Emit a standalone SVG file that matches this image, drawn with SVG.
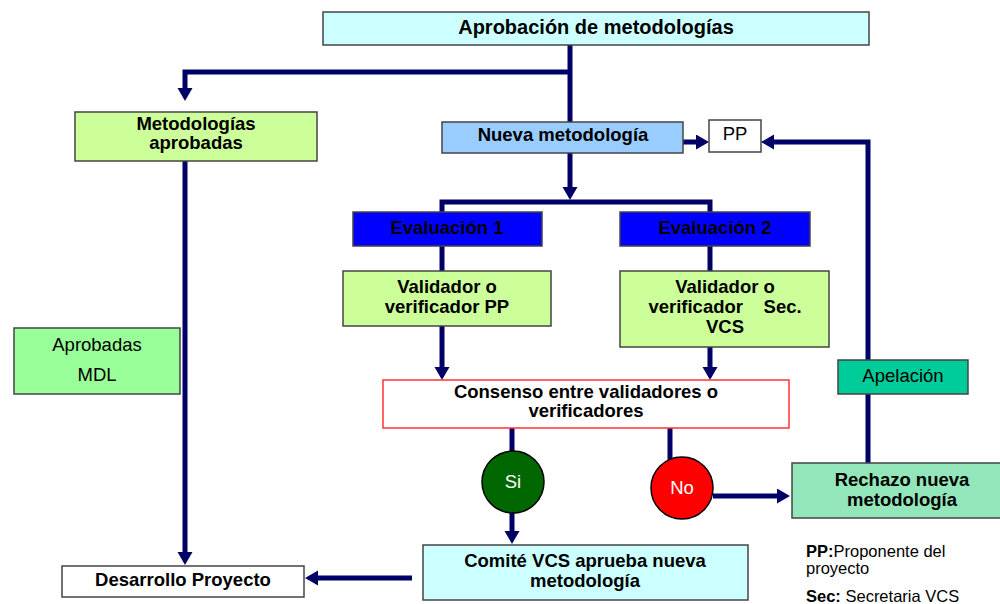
<svg xmlns="http://www.w3.org/2000/svg" width="1000" height="604" viewBox="0 0 1000 604">
<style>
text{font-family:"Liberation Sans",Arial,sans-serif;font-size:18.5px;fill:#000;text-anchor:middle}
.b{font-weight:bold}
.t{font-size:20px}
.box{stroke:#444;stroke-width:1.5}
.conn{fill:none;stroke:#000066;stroke-width:5}
.w{fill:#fff}
.leg{font-size:16.5px;text-anchor:start}
</style>
<defs>
<marker id="ah" markerUnits="userSpaceOnUse" markerWidth="14" markerHeight="16" refX="5" refY="7.5" orient="auto" viewBox="0 0 14 16">
<path d="M0,0 L13,7.5 L0,15 z" fill="#000066"/>
</marker>
</defs>
<rect width="1000" height="604" fill="#fff"/>
<g id="connectors">
<path class="conn" d="M570,45 V122"/>
<path class="conn" d="M570,72 H185 V93" marker-end="url(#ah)"/>
<path class="conn" d="M185,161 V557" marker-end="url(#ah)"/>
<path class="conn" d="M683,142 H701" marker-end="url(#ah)"/>
<path class="conn" d="M868,360 V142 H769" marker-end="url(#ah)"/>
<path class="conn" d="M868,463 V394"/>
<path class="conn" d="M570,153 V192" marker-end="url(#ah)"/>
<path class="conn" d="M442,212 V202 H710 V212"/>
<path class="conn" d="M442,246 V271"/>
<path class="conn" d="M710,246 V271"/>
<path class="conn" d="M442,326 V372" marker-end="url(#ah)"/>
<path class="conn" d="M710,347 V372" marker-end="url(#ah)"/>
<path class="conn" d="M512,428 V451"/>
<path class="conn" d="M512,513 V536" marker-end="url(#ah)"/>
<path class="conn" d="M670,428 V460"/>
<path class="conn" d="M713,496 H782" marker-end="url(#ah)"/>
<path class="conn" d="M412,578 H313" marker-end="url(#ah)"/>
</g>
<g id="aprobacion">
<rect class="box" x="323" y="12" width="546" height="33" fill="#ccffff"/>
<text class="b t" x="596" y="34">Aprobación de metodologías</text>
</g>
<g id="metodologias-aprobadas">
<rect class="box" x="75" y="112" width="242" height="49" fill="#ccff99"/>
<text class="b" x="196" y="129.5">Metodologías</text>
<text class="b" x="196" y="149">aprobadas</text>
</g>
<g id="nueva-metodologia">
<rect class="box" x="442" y="122" width="241" height="31" fill="#99ccff"/>
<text class="b" x="563" y="141">Nueva metodología</text>
</g>
<g id="pp">
<rect class="box" x="709" y="120" width="52" height="32" fill="#fff"/>
<text x="735" y="140">PP</text>
</g>
<g id="evaluacion1">
<rect class="box" x="353" y="212" width="189" height="34" fill="#0000ff"/>
<text class="b" x="447" y="234">Evaluación 1</text>
</g>
<g id="evaluacion2">
<rect class="box" x="620" y="212" width="190" height="34" fill="#0000ff"/>
<text class="b" x="715" y="234">Evaluación 2</text>
</g>
<g id="validador1">
<rect class="box" x="343" y="271" width="208" height="55" fill="#ccff99"/>
<text class="b" x="447" y="293">Validador o</text>
<text class="b" x="447" y="313">verificador PP</text>
</g>
<g id="validador2">
<rect class="box" x="620" y="271" width="209" height="76" fill="#ccff99"/>
<text class="b" x="725" y="293">Validador o</text>
<text class="b" x="725" y="313" xml:space="preserve">verificador    Sec.</text>
<text class="b" x="725" y="333">VCS</text>
</g>
<g id="consenso">
<rect x="383" y="380" width="406" height="48" fill="#fff" stroke="#ff3333" stroke-width="1.5"/>
<text class="b" x="586" y="398">Consenso entre validadores o</text>
<text class="b" x="586" y="417">verificadores</text>
</g>
<g id="si">
<circle cx="513" cy="482" r="31" fill="#006600" stroke="#000" stroke-width="1.5"/>
<text class="w" x="513" y="488">Si</text>
</g>
<g id="no">
<circle cx="682" cy="488" r="31" fill="#ff0000" stroke="#000" stroke-width="1.5"/>
<text class="w" x="682" y="494">No</text>
</g>
<g id="rechazo">
<rect class="box" x="792" y="463" width="215" height="55" fill="#92e6b9"/>
<text class="b" x="902" y="486">Rechazo nueva</text>
<text class="b" x="902" y="506">metodología</text>
</g>
<g id="apelacion">
<rect class="box" x="838" y="360" width="130" height="34" fill="#00cc99"/>
<text x="903" y="382">Apelación</text>
</g>
<g id="comite">
<rect class="box" x="423" y="545" width="325" height="55" fill="#ccffff"/>
<text class="b" x="585" y="567">Comité VCS aprueba nueva</text>
<text class="b" x="585" y="587">metodología</text>
</g>
<g id="desarrollo">
<rect class="box" x="62" y="566" width="242" height="31" fill="#fff"/>
<text class="b" x="183" y="586">Desarrollo Proyecto</text>
</g>
<g id="aprobadas-mdl">
<rect class="box" x="14" y="328" width="166" height="66" fill="#99ff99"/>
<text x="97" y="351">Aprobadas</text>
<text x="97" y="381">MDL</text>
</g>
<g id="legend">
<text class="leg" x="806" y="557"><tspan class="b">PP:</tspan>Proponente del</text>
<text class="leg" x="806" y="574">proyecto</text>
<text class="leg" x="806" y="602"><tspan class="b">Sec:</tspan> Secretaria VCS</text>
</g>
</svg>
